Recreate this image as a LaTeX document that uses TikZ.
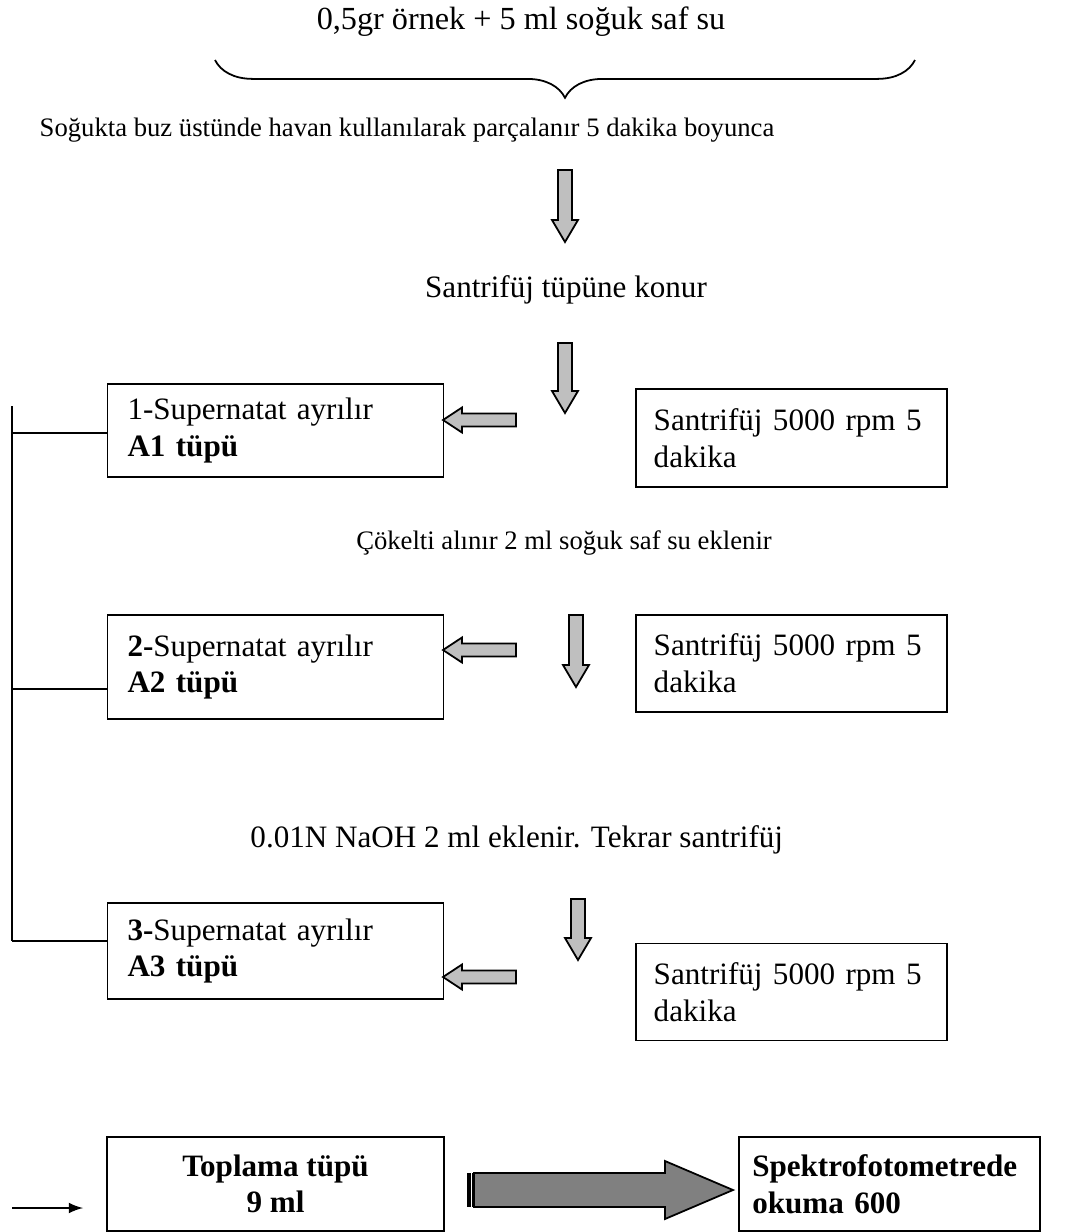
\documentclass[tikz,border=0pt]{standalone}
\usepackage{fontspec}
\setmainfont{Liberation Serif}
\usetikzlibrary{decorations.pathreplacing}

\tikzset{
  every node/.style={font=\fontsize{14}{16.5}\selectfont},
  small/.style={font=\fontsize{12}{14}\selectfont},
  tubebox/.style={draw, line width=0.8pt, inner xsep=9pt, inner ysep=0pt,
    align=left, text width=133.2pt, minimum width=151.2pt},
  spinbox/.style={draw, line width=0.8pt, inner xsep=8pt, inner ysep=0pt,
    align=left, text width=124pt, minimum width=140pt},
  blockarrow/.style={draw, line width=0.8pt, fill=black!25, line join=miter},
  rail/.style={line width=0.7pt}
}

% grey block arrows (x centre, top y, tip y) and (tip x, y, tail x)
\newcommand{\downblock}[3]{%
  \draw[blockarrow] (#1-7,#2) -- (#1+7,#2) -- (#1+7,#3-22) -- (#1+13,#3-22)
    -- (#1,#3) -- (#1-13,#3-22) -- (#1-7,#3-22) -- cycle;}
\newcommand{\leftblock}[3]{%
  \draw[blockarrow] (#1,#2) -- (#1+19,#2-12.5) -- (#1+19,#2-6.5) -- (#3,#2-6.5)
    -- (#3,#2+6.5) -- (#1+19,#2+6.5) -- (#1+19,#2+12.5) -- cycle;}

\begin{document}
\begin{tikzpicture}[x=0.45pt,y=-0.45pt]
\useasboundingbox (0,0) rectangle (1080,1232);

%steps of the procedure
\node[font=\fontsize{14.5}{17}\selectfont] (sample) at (521,22) {0,5gr örnek + 5 ml soğuk saf su};
\draw[line width=0.8pt, decorate, decoration={brace, mirror, amplitude=17pt}]
  (215,60) -- (915,60);
\node[small] (grind) at (407,130) {Soğukta buz üstünde havan kullanılarak parçalanır 5 dakika boyunca};
\node (tube) at (566,290) {Santrifüj tüpüne konur};
\node[small] (pellet) at (564,543) {Çökelti alınır 2 ml soğuk saf su eklenir};
\node[anchor=west, inner xsep=0pt] (naoh) at (250,840) {0.01N NaOH 2 ml eklenir. Tekrar santrifüj};

%supernatant tubes
\node[tubebox, minimum height=41.9pt] (a1) at (275.5,430.5) {1-Supernatat ayrılır\\\textbf{A1 tüpü}};
\node[tubebox, minimum height=46.8pt] (a2) at (275.5,667) {\textbf{2-}Supernatat ayrılır\\\textbf{A2 tüpü}};
\node[tubebox, minimum height=43.5pt] (a3) at (275.5,951) {\textbf{3-}Supernatat ayrılır\\\textbf{A3 tüpü}};

%centrifuge boxes
\node[spinbox, minimum height=44.1pt] (s1) at (791.5,438) {Santrifüj 5000 rpm 5\\dakika};
\node[spinbox, minimum height=43.7pt] (s2) at (791.5,663.5) {Santrifüj 5000 rpm 5\\dakika};
\node[spinbox, minimum height=43.7pt] (s3) at (791.5,992) {Santrifüj 5000 rpm 5\\dakika};

%down arrows
\downblock{565}{170}{242}
\downblock{565}{343}{413}
\downblock{576}{615}{687}
\downblock{578}{899}{960}

%arrows into the tubes
\leftblock{443}{420}{516}
\leftblock{443}{650}{516}
\leftblock{443}{977}{516}

%collecting rail on the left
\coordinate (railtop) at (12,406);
\coordinate (railbot) at (12,941);
\draw[rail] (railtop) -- (railbot);
\draw[rail] (12,433) -- (12,433 -| a1.west);
\draw[rail] (12,689) -- (12,689 -| a2.west);
\draw[rail] (railbot) -- (railbot -| a3.west);

%collection and reading
\node[draw, line width=0.8pt, align=center, minimum width=151.6pt, minimum height=42pt,
  font=\fontsize{14}{16.5}\selectfont\bfseries] (sum) at (275.5,1184) {Toplama tüpü\\9 ml};
\node[draw, line width=0.8pt, align=left, inner xsep=6pt, text width=123.5pt, minimum width=135.5pt,
  minimum height=42pt, font=\fontsize{14}{16.5}\selectfont\bfseries] (read) at (889.5,1184) {Spektrofotometrede\\okuma 600};

\coordinate (in1) at (12,1208);
\coordinate (in2) at (83,1208);
\draw[line width=1.2pt, -latex] (in1) -- (in2);

%big striped arrow
\fill (467,1173) rectangle (470.5,1207);
\fill (471.5,1173) rectangle (473,1207);
\draw[line width=0.8pt, fill=black!50] (474,1173) -- (665,1173) -- (665,1161) -- (733,1190)
  -- (665,1219) -- (665,1207) -- (474,1207) -- cycle;

\end{tikzpicture}
\end{document}
